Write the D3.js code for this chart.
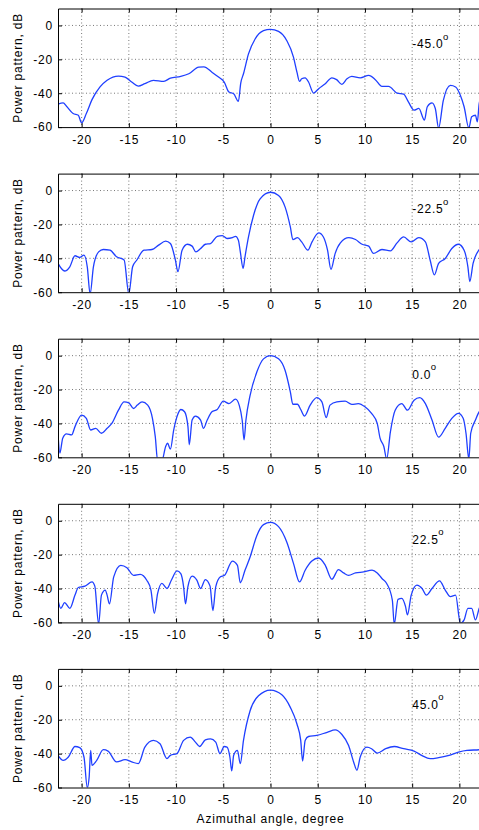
<!DOCTYPE html>
<html>
<head>
<meta charset="utf-8">
<script src="https://cdn.jsdelivr.net/npm/d3@7"></script>
<style>
body { margin: 0; background: #fff; overflow: hidden; }
text { font-family: "Liberation Sans", Arial, sans-serif; font-size: 12px; letter-spacing: 0.8px; fill: #000; }
</style>
</head>
<body>
<div id="chart"></div>
<script>
// tick values / labels
var xTicks = [-20, -15, -10, -5, 0, 5, 10, 15, 20];
var yTicks = [-60, -40, -20, 0];
var steerLabels = ["-45.0", "-22.5", "0.0", "22.5", "45.0"];

// pattern for steering -45.0 deg  [azimuth, dB]
var pat1 = [[-22.5,-46.5],[-21.95,-45.7],[-21.6,-47.7],[-20.9,-52],[-20.35,-53],[-20,-57.5],[-19.5,-52],[-18.9,-43.8],
  [-18.05,-36.3],[-17.3,-32.4],[-16.1,-29.9],[-15.4,-30.5],[-14.7,-33.4],[-14,-35.8],[-13.3,-34.4],[-12.4,-32.4],
  [-11.3,-33],[-10.6,-31.1],[-9.5,-30.1],[-8.65,-28.5],[-7.6,-24.6],[-7.05,-24.4],[-6.2,-27.6],[-5.5,-30.5],
  [-4.9,-33.4],[-4.4,-39.3],[-3.9,-40.3],[-3.4,-44.8],[-3.15,-34],[-2.86,-28.5],[-2.33,-16.8],[-1.63,-8],
  [-0.74,-3.1],[0,-2.3],[0.85,-3.5],[1.73,-9],[2.44,-18.8],[2.8,-27.6],[3.07,-33],[3.3,-31.5],[3.67,-30.9],
  [4.03,-33.4],[4.56,-39.9],[5.1,-37.3],[5.8,-34.4],[6.5,-30.9],[7,-32],[7.56,-34.8],[8.1,-31.5],[8.6,-30.1],
  [9.5,-30.9],[10.4,-29.5],[11.1,-32],[11.8,-36],[12.5,-36],[13.4,-39.9],[14.1,-40.6],[14.6,-45.1],[15.2,-50],
  [15.7,-49],[16.3,-55.9],[16.6,-48],[17.1,-45.7],[17.45,-49],[17.8,-60.5],[18.3,-44.2],[19.05,-35.4],
  [19.6,-36.3],[20.1,-41.2],[20.5,-48],[21,-60.5],[21.3,-53.9],[21.7,-53],[21.9,-56.9],[22.1,-46],[22.5,-40]];

// steering -22.5 deg
var pat2 = [[-22.5,-43],[-21.8,-47.5],[-21.25,-45],[-20.7,-38.5],[-20.2,-39.5],[-19.75,-38.1],[-19.4,-45],[-19.1,-61],
  [-18.75,-45],[-18.2,-36.2],[-17.7,-34.8],[-17,-35.2],[-16.3,-39.1],[-15.5,-41],[-15,-61],[-14.6,-45],[-14.15,-41],
  [-13.4,-35.2],[-12.55,-34.8],[-11.85,-32.2],[-11.1,-29.9],[-10.6,-31.3],[-10.07,-41],[-9.8,-47.9],[-9.36,-35.2],
  [-8.8,-31.7],[-8.3,-32.8],[-7.9,-36.2],[-7.4,-34.2],[-6.9,-31.7],[-6.35,-31.3],[-5.64,-27],[-5.1,-26.6],
  [-4.6,-28.3],[-4.04,-27.8],[-3.7,-27],[-3.4,-29.3],[-3.2,-36],[-2.9,-45.9],[-2.7,-39.1],[-2.33,-27.4],
  [-1.8,-14.7],[-1.1,-4.9],[0,-1],[0.85,-2.9],[1.55,-9.8],[2.1,-21.5],[2.37,-28.9],[2.86,-27.8],[3.3,-30.3],
  [3.96,-35.2],[4.4,-30.3],[5.1,-25],[5.6,-27.4],[6.04,-35.2],[6.4,-46.5],[6.85,-37.1],[7.4,-30.9],[8.3,-27.8],
  [9,-28.9],[9.7,-31.7],[10.4,-32.8],[10.9,-37.1],[11.8,-34.8],[12.7,-35.6],[13.4,-30.9],[14.1,-27.4],
  [14.9,-30.3],[15.7,-27.8],[16.4,-30.3],[16.9,-41],[17.35,-49.8],[17.8,-43],[18.5,-40.1],[19.2,-34.2],
  [19.9,-31.7],[20.5,-35.2],[20.9,-45],[21.1,-53.7],[21.45,-43],[22.1,-34.8],[22.5,-32]];

// steering 0.0 deg
var pat3 = [[-22.5,-46],[-22.3,-57.5],[-22,-48.7],[-21.6,-46.2],[-21.06,-46.8],[-20.7,-41.9],[-20,-35.1],[-19.5,-37],
  [-19.04,-43.9],[-18.5,-42.9],[-17.9,-45.8],[-17.3,-42.9],[-16.8,-40],[-16.1,-32.2],[-15.5,-27.3],[-15,-27.9],
  [-14.5,-31.2],[-14.1,-29.2],[-13.6,-27.3],[-13,-29.2],[-12.5,-37],[-12.2,-47.8],[-11.95,-62],[-11.5,-62],
  [-11.1,-53.6],[-10.9,-51.7],[-10.6,-55.2],[-10.25,-43.9],[-9.9,-36],[-9.5,-31.8],[-9.1,-33.1],[-8.74,-41.9],
  [-8.6,-52.6],[-8.3,-38],[-7.95,-35.7],[-7.4,-38],[-7.1,-42.9],[-6.7,-38],[-6.2,-33.1],[-5.64,-31.8],[-5,-26.9],
  [-4.4,-28.3],[-3.7,-25.7],[-3.3,-29.5],[-3,-38],[-2.8,-49.7],[-2.6,-38],[-2.16,-23.4],[-1.45,-9.7],[-0.74,-1.9],
  [0,0],[0.85,-1.9],[1.55,-8.8],[2.1,-21.4],[2.37,-28.7],[2.86,-28.7],[3.2,-31.8],[3.6,-35.7],[4.2,-29.2],
  [4.9,-24.8],[5.44,-27.3],[5.9,-36.5],[6.3,-29.2],[7.03,-27.3],[7.9,-26.9],[8.6,-28.8],[9.3,-28.3],[10,-30.2],
  [10.7,-34.1],[11.3,-40],[11.6,-48.7],[12,-53.6],[12.3,-61],[12.7,-44.8],[13.2,-32.2],[13.9,-28.3],[14.5,-32.2],
  [15.2,-26.3],[15.8,-24.8],[16.4,-28.3],[17.1,-38],[17.8,-48.1],[18.5,-42.9],[19.2,-37],[19.9,-34.1],
  [20.4,-37],[20.7,-45.8],[21,-61],[21.2,-45.8],[21.7,-38],[22.1,-33.1],[22.5,-31]];

// steering 22.5 deg
var pat4 = [[-22.5,-46.8],[-22.2,-51.7],[-21.8,-48.3],[-21.25,-51.7],[-20.7,-43.9],[-20.35,-39.4],[-19.65,-38.6],
  [-18.9,-36.1],[-18.6,-38.6],[-18.2,-61],[-17.9,-43.9],[-17.5,-40.9],[-17.3,-43.9],[-17.05,-49.1],[-16.6,-33.1],
  [-15.85,-26.3],[-15.2,-27.7],[-14.5,-32.2],[-13.8,-31.6],[-13.1,-35.1],[-12.66,-40.9],[-12.3,-54.6],
  [-11.95,-42.9],[-11.5,-37],[-10.96,-40],[-10.5,-35.1],[-9.9,-29.6],[-9.5,-31.2],[-9.2,-39],[-9,-49.1],
  [-8.75,-39],[-8.3,-32.7],[-7.8,-35.1],[-7.4,-40],[-6.9,-34.7],[-6.4,-38.6],[-6.1,-53],[-5.8,-39],[-5.3,-33.1],
  [-4.86,-32.2],[-4.04,-23.8],[-3.5,-26.3],[-3.2,-36.6],[-2.7,-29.2],[-2.16,-21.4],[-1.45,-8.8],[-0.74,-2.3],
  [0,-1],[0.85,-3.5],[1.73,-12.7],[2.44,-25.3],[3.07,-36.1],[3.67,-29.2],[4.38,-23.8],[5.1,-22],[5.8,-26.3],
  [6.5,-34.5],[7.2,-28.8],[7.74,-30.8],[8.27,-32.2],[9,-30.8],[9.85,-30.2],[10.75,-29.2],[11.3,-30.8],
  [11.8,-34.1],[12.3,-37],[12.9,-46.8],[13.1,-61],[13.5,-46.4],[13.9,-45.8],[14.3,-50.7],[14.5,-55.6],
  [14.9,-43.9],[15.5,-38],[16.05,-40],[16.5,-43.9],[17.1,-40],[17.9,-35.5],[18.5,-40.9],[19.05,-44.8],
  [19.6,-43.9],[20.1,-60.5],[20.5,-58.5],[20.9,-51.7],[21.3,-51.7],[21.7,-58.5],[22.1,-51.7],[22.5,-48]];

// steering 45.0 deg
var pat5 = [[-22.5,-41],[-21.95,-44],[-21.4,-42],[-20.7,-35.8],[-20.2,-36.5],[-19.75,-42],[-19.4,-60],[-19.2,-53.7],
  [-19.04,-38.1],[-18.9,-46.9],[-18.4,-44],[-17.7,-37.7],[-17.2,-38.5],[-16.3,-44.9],[-15.4,-43.6],[-14.7,-44.9],
  [-14,-45.9],[-13.3,-36.2],[-12.4,-32.2],[-11.7,-34.2],[-10.96,-43],[-10.6,-41],[-9.9,-40],[-9.2,-32.2],
  [-8.5,-30.3],[-7.95,-33.2],[-7.5,-35.8],[-6.9,-31.9],[-6.35,-31.3],[-5.8,-33.2],[-5.35,-40],[-4.9,-35.8],
  [-4.6,-36.2],[-4.3,-42],[-4.1,-50.2],[-3.9,-41],[-3.5,-38.1],[-3.2,-45.9],[-2.86,-32.2],[-2.16,-14.7],
  [-1.27,-5.9],[0,-2.5],[1.2,-5.3],[2.1,-12.7],[2.8,-22.5],[3.2,-32.2],[3.4,-44.4],[3.67,-32.2],[4.03,-29.9],
  [4.9,-29.3],[6,-27.4],[6.86,-26],[7.56,-28.7],[8.27,-35.2],[8.8,-44.9],[9.15,-49.8],[9.5,-42],[10.2,-36.2],
  [10.7,-37.1],[11.3,-39.7],[12.2,-37.1],[13.1,-35.8],[14.1,-37.1],[15.2,-38.5],[16,-41],[16.9,-43],
  [17.8,-42.4],[18.9,-41],[19.9,-39.1],[20.8,-38.1],[22.1,-37.7],[22.5,-37.5]];

var patterns = [pat1, pat2, pat3, pat4, pat5];

var W = 479, H = 830;
var left = 58, right = 483;
var firstTop = 8.5, step = 165.1, panelH = 118.6;

var svg = d3.select("#chart").append("svg")
    .attr("width", W)
    .attr("height", H);

var x = d3.scaleLinear().domain([-22.5, 22.5]).range([left, right]);

var line = d3.line()
    .x(function(d){ return x(d[0]); })
    .curve(d3.curveMonotoneX);

// plain hyphen minus, like the original
var fmt = function(d){ return String(d); };

patterns.forEach(function(pat, i){
    var top = firstTop + i * step;
    var y = d3.scaleLinear().domain([-60, 10]).range([top + panelH, top]);
    var g = svg.append("g");

    g.append("clipPath").attr("id", "clip" + i)
        .append("rect")
        .attr("x", left).attr("y", top)
        .attr("width", right - left).attr("height", panelH);

    // grid
    g.selectAll(".gx").data(xTicks).enter().append("line")
        .attr("x1", function(d){ return x(d); }).attr("x2", function(d){ return x(d); })
        .attr("y1", top).attr("y2", top + panelH)
        .attr("stroke", "#555").attr("stroke-width", 0.8)
        .attr("stroke-dasharray", "1,2.5");
    g.selectAll(".gy").data(yTicks.slice(1)).enter().append("line")
        .attr("x1", left).attr("x2", right)
        .attr("y1", function(d){ return y(d); }).attr("y2", function(d){ return y(d); })
        .attr("stroke", "#555").attr("stroke-width", 0.8)
        .attr("stroke-dasharray", "1,2.5");

    // curve
    g.append("path")
        .datum(pat)
        .attr("clip-path", "url(#clip" + i + ")")
        .attr("d", line.y(function(d){ return y(d[1]); }))
        .attr("fill", "none")
        .attr("stroke", "#1f3fff")
        .attr("stroke-width", 1.3)
        .attr("stroke-linejoin", "round");

    // axes, ticks pointing inward
    var xb = g.append("g").attr("transform", "translate(0," + (top + panelH) + ")")
        .call(d3.axisBottom(x).tickValues(xTicks).tickFormat(fmt).tickSizeInner(-4).tickSizeOuter(0).tickPadding(8));
    var xt = g.append("g").attr("transform", "translate(0," + top + ")")
        .call(d3.axisTop(x).tickValues(xTicks).tickSizeInner(-4).tickSizeOuter(0).tickFormat(""));
    var yl = g.append("g").attr("transform", "translate(" + left + ",0)")
        .call(d3.axisLeft(y).tickValues(yTicks).tickFormat(fmt).tickSizeInner(-4).tickSizeOuter(0).tickPadding(5));
    [xb, xt, yl].forEach(function(a){
        a.select(".domain").attr("stroke", "#000").attr("stroke-width", 1);
        a.selectAll(".tick line").attr("stroke", "#000");
        a.selectAll("text").attr("font-size", null).attr("font-family", null);
    });

    // y label
    g.append("text")
        .attr("transform", "translate(22," + (top + panelH / 2) + ") rotate(-90)")
        .attr("text-anchor", "middle")
        .text("Power pattern, dB");

    // steering angle annotation
    var t = g.append("text")
        .attr("x", x(15)).attr("y", y(-13.5));
    t.append("tspan").text(steerLabels[i]);
    t.append("tspan").attr("dy", -8.5).attr("dx", -0.5).style("font-size", "9.5px").style("letter-spacing", "0px").text("o");
});

svg.append("text")
    .attr("x", x(0)).attr("y", 823)
    .attr("text-anchor", "middle")
    .text("Azimuthal angle, degree");
</script>
</body>
</html>
